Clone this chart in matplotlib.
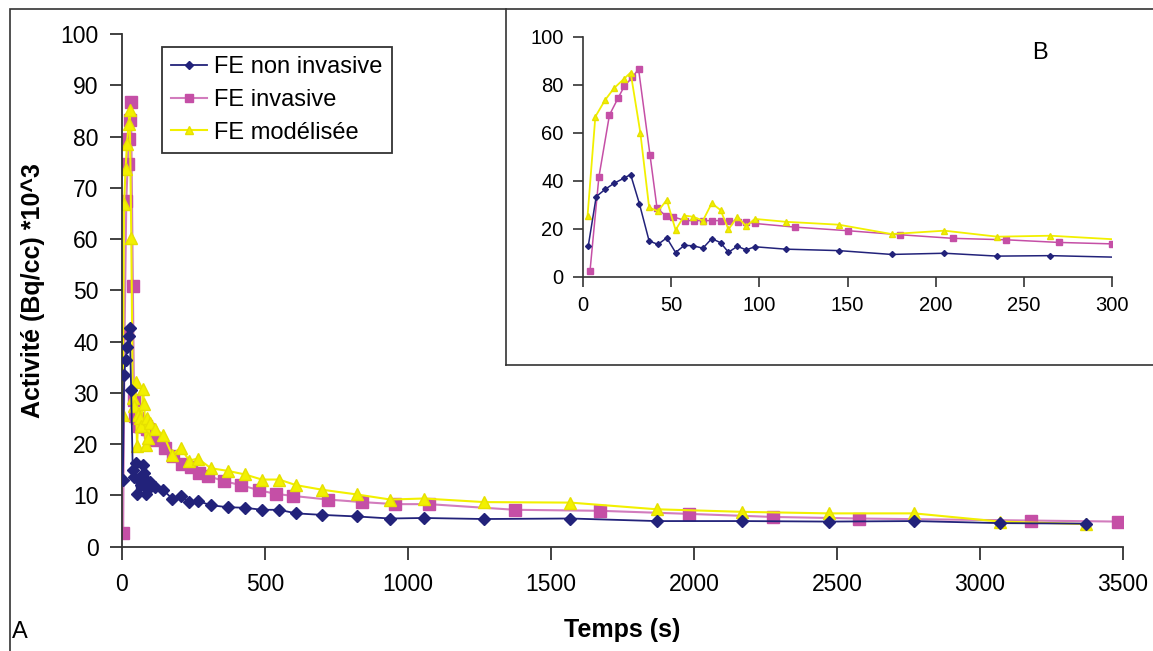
import numpy as np
import matplotlib
matplotlib.use("Agg")
import matplotlib.pyplot as plt
from matplotlib.patches import Rectangle
from matplotlib.lines import Line2D

plt.rcParams['font.family'] = ['Liberation Sans', 'DejaVu Sans']

# FE non invasive (temps s, activité kBq/cc)
t_non = [3, 7.5, 12.5, 17.5, 23, 27, 32, 37.5, 42.5, 47.5, 52.5, 57.5, 62.5, 68, 73, 78,
         82.5, 87.5, 92.5, 97.5, 115, 145, 175, 205, 235, 265, 311, 369, 429, 489, 549,
         609, 701, 820, 938, 1055, 1266, 1568, 1869, 2169, 2471, 2770, 3069, 3370]
a_non = [13.0, 33.5, 36.5, 39.0, 41.1, 42.7, 30.5, 15.0, 13.6, 16.3, 10.2, 13.2, 13.0, 12.0,
         16.0, 14.3, 10.3, 12.8, 11.3, 12.6, 11.6, 11.0, 9.4, 9.9, 8.7, 8.9, 8.1, 7.7, 7.6,
         7.2, 7.2, 6.5, 6.2, 5.9, 5.5, 5.6, 5.4, 5.5, 5.0, 5.0, 4.9, 5.0, 4.6, 4.5]

# FE invasive
t_inv = [4, 9, 15, 20, 23.5, 28, 31.5, 38, 42, 47, 51, 58, 63, 68, 73, 78, 83, 88, 92.5, 97.5,
         120, 150, 180, 210, 240, 270, 300, 356, 416, 480, 538, 599, 719, 840, 955, 1074,
         1373, 1673, 1983, 2276, 2577, 3179, 3482]
a_inv = [2.7, 41.6, 67.5, 74.7, 79.6, 83.2, 86.7, 50.8, 28.6, 25.5, 25.1, 23.5, 23.5, 23.5,
         23.5, 23.5, 23.5, 23.0, 23.0, 22.3, 20.8, 19.3, 17.6, 16.1, 15.5, 14.4, 13.8, 12.8,
         12.0, 11.0, 10.3, 9.9, 9.2, 8.7, 8.3, 8.3, 7.2, 7.0, 6.4, 5.8, 5.5, 5.1, 4.9]

# FE modélisée
t_mod = [2.6, 7, 12.5, 17.5, 23, 27, 32.5, 37.5, 42.5, 47.5, 52.5, 57.5, 62.5, 68, 73, 78,
         82.5, 87.5, 92.5, 97.5, 115, 145, 175, 205, 235, 265, 311, 369, 429, 489, 549, 609,
         701, 820, 938, 1055, 1266, 1568, 1869, 2169, 2471, 2770, 3069, 3371]
a_mod = [25.6, 66.8, 73.7, 78.6, 82.4, 85.2, 60.2, 29.0, 27.4, 32.1, 19.6, 25.6, 25.1, 23.5,
         30.7, 27.9, 19.8, 25.1, 21.2, 24.2, 23.0, 21.8, 17.9, 19.3, 16.8, 17.2, 15.3, 14.8,
         14.1, 13.1, 13.1, 12.0, 11.1, 10.2, 9.2, 9.4, 8.7, 8.6, 7.3, 6.8, 6.5, 6.5, 4.9, 4.4]

c_non = '#22227a'
c_inv = '#c54fa6'
c_inv_line = '#d27cbd'
c_mod = '#f2f000'
c_mod_edge = '#e6e000'

fig = plt.figure(figsize=(11.53, 6.51), dpi=100)

# outer frame and inset frame
fig.add_artist(Rectangle((10 / 1153, -0.01), 1.2, 1 - 9 / 651 + 0.01, transform=fig.transFigure,
                         fill=False, ec='#333333', lw=1.2))
fig.add_artist(Line2D([506 / 1153, 506 / 1153], [1 - 9 / 651, 1 - 365 / 651],
                      transform=fig.transFigure, color='#333333', lw=1.2))
fig.add_artist(Line2D([506 / 1153, 1.0], [1 - 365 / 651, 1 - 365 / 651],
                      transform=fig.transFigure, color='#333333', lw=1.2))

# main chart
ax = fig.add_axes([122 / 1153, 1 - 546.7 / 651, 1001 / 1153, (546.7 - 34) / 651])
ax.plot(t_non, a_non, color=c_non, lw=1.3, marker='D', ms=6, mfc=c_non, mec=c_non,
        label='FE non invasive', zorder=3)
ax.plot(t_inv, a_inv, color=c_inv_line, lw=1.5, marker='s', ms=8, mfc=c_inv, mec=c_inv,
        label='FE invasive', zorder=2)
ax.plot(t_mod, a_mod, color=c_mod, lw=1.5, marker='^', ms=9, mfc=c_mod, mec=c_mod_edge,
        label='FE modélisée', zorder=2.5)
ax.set_xlim(0, 3500)
ax.set_ylim(0, 100)
ax.set_xticks(np.arange(0, 3501, 500))
ax.set_yticks(np.arange(0, 101, 10))
for s in ['top', 'right']:
    ax.spines[s].set_visible(False)
for s in ['left', 'bottom']:
    ax.spines[s].set_color('#333333')
    ax.spines[s].set_linewidth(1.3)
ax.tick_params(direction='out', length=9, width=1.3, color='#333333', labelsize=16.5, pad=10)
ax.tick_params(axis='y', pad=8)
ax.set_ylabel('Activité (Bq/cc) *10^3', fontsize=18, fontweight='bold', labelpad=11)
ax.set_xlabel('Temps (s)', fontsize=18, fontweight='bold', labelpad=16)

leg = ax.legend(loc='upper left', bbox_to_anchor=(40 / 1001, 1 - 13 / 512.7), fontsize=17,
                frameon=True, fancybox=False, edgecolor='black', borderpad=0.4,
                borderaxespad=0, handlelength=1.5, handletextpad=0.3, labelspacing=0.45,
                markerscale=0.7)
leg.get_frame().set_linewidth(1.3)

# inset
axi = fig.add_axes([583 / 1153, 1 - 277 / 651, (1112 - 583) / 1153, (277 - 37) / 651])
axi.plot(t_non, a_non, color=c_non, lw=1.1, marker='D', ms=3, mfc=c_non, mec=c_non, zorder=3)
axi.plot(t_inv, a_inv, color=c_inv, lw=1.1, marker='s', ms=4.5, mfc=c_inv, mec=c_inv, zorder=2)
axi.plot(t_mod, a_mod, color=c_mod, lw=1.3, marker='^', ms=5, mfc=c_mod, mec=c_mod_edge,
         zorder=2.5)
axi.set_xlim(0, 300)
axi.set_ylim(0, 100)
axi.set_xticks(np.arange(0, 301, 50))
axi.set_yticks(np.arange(0, 101, 20))
for s in ['top', 'right']:
    axi.spines[s].set_visible(False)
for s in ['left', 'bottom']:
    axi.spines[s].set_color('#333333')
    axi.spines[s].set_linewidth(1.2)
axi.tick_params(direction='out', length=7, width=1.2, color='#333333', labelsize=14.5, pad=7)
axi.text(1040 / 1153, 1 - 53 / 651, 'B', transform=fig.transFigure, fontsize=17,
         ha='center', va='center')

fig.text(20 / 1153, 1 - 632 / 651, 'A', fontsize=17, ha='center', va='center')

fig.savefig('out.png', dpi=100)
